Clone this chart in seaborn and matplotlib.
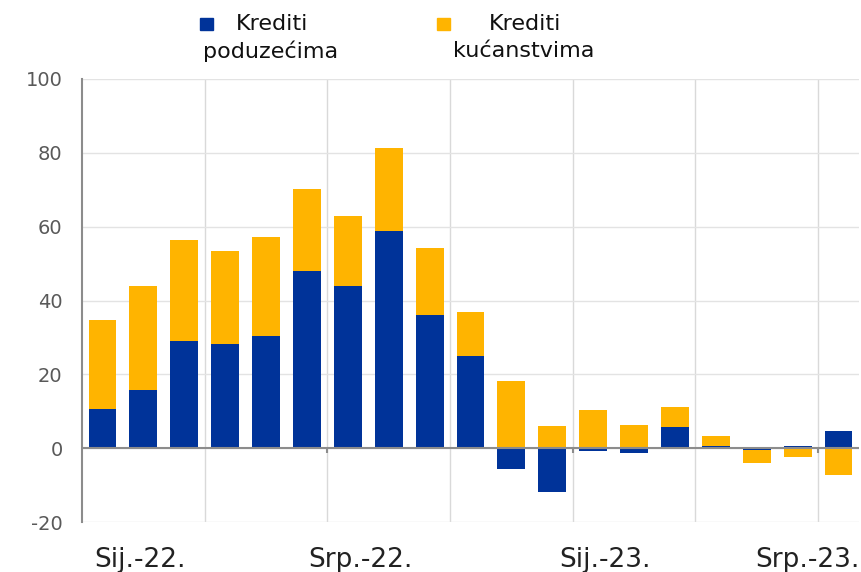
import numpy as np
import pandas as pd
import matplotlib
matplotlib.use("Agg")
import matplotlib.pyplot as plt
import matplotlib.transforms as mtransforms
from matplotlib.patches import Rectangle
import seaborn as sns

# monthly contributions, Jan 2022 - Jul 2023
months = pd.date_range("2022-01", periods=19, freq="MS").strftime("%Y-%m").tolist()
poduzeca = [10.5, 15.7, 28.9, 28.1, 30.5, 48.1, 43.8, 58.9, 36.2, 24.9,
            -5.7, -11.9, -0.8, -1.4, 5.7, 0.5, -0.5, 0.7, 4.6]
kucanstva = [24.1, 28.1, 27.6, 25.4, 26.8, 22.2, 19.2, 22.5, 18.1, 11.9,
             18.1, 5.9, 10.3, 6.2, 5.4, 2.7, -3.6, -2.4, -7.3]

x_labels = ["Sij.-22.", "Srp.-22.", "Sij.-23.", "Srp.-23."]
x_label_pos = [0.93, 6.3, 12.3, 17.24]

BLUE = "#003399"
YELLOW = "#FFB400"
GREY = "#595959"

df = pd.DataFrame({"mjesec": months, "poduzeca": poduzeca, "kucanstva": kucanstva})
# stack same-sign parts, opposite signs start from zero
df["bottom"] = np.where(np.sign(df["poduzeca"]) == np.sign(df["kucanstva"]), df["poduzeca"], 0.0)

sns.set_style("white")
plt.rcParams["font.family"] = ["DejaVu Sans"]
plt.rcParams["axes.unicode_minus"] = False

fig = plt.figure(figsize=(8.61, 5.72), dpi=100)
ax = fig.add_axes([0.0952, 0.0874, 0.9025, 0.7745])

sns.barplot(data=df, x="mjesec", y="poduzeca", order=months, color=BLUE,
            saturation=1, width=0.68, linewidth=0, ax=ax, zorder=3)
sns.barplot(data=df, x="mjesec", y="kucanstva", order=months, color=YELLOW,
            saturation=1, width=0.68, linewidth=0, bottom=df["bottom"].values,
            ax=ax, zorder=3)

ax.set_xlim(-0.5, len(months) - 0.5)
ax.set_ylim(-20, 100)
ax.set_yticks(np.arange(-20, 101, 20))
ax.set_xlabel("")
ax.set_ylabel("")

# gridlines every 3 months
ax.set_xticks([])
ax.set_xticks(np.arange(2.5, len(months), 3), minor=True)
ax.grid(True, which="minor", axis="x", color="#d9d9d9", lw=1, zorder=0)
ax.grid(True, which="major", axis="y", color="#e3e3e3", lw=1, zorder=0)
ax.tick_params(axis="x", which="both", length=0, labelbottom=False)
ax.tick_params(axis="y", length=8, width=1.3, color="#8c8c8c", colors=GREY,
               labelsize=14, pad=6)

for s in ["top", "right", "bottom"]:
    ax.spines[s].set_visible(False)
ax.spines["left"].set_color("#8c8c8c")
ax.spines["left"].set_linewidth(1.5)

ax.axhline(0, color="#8c8c8c", lw=1.5, zorder=4)
ax.vlines([5.5, 11.5, 17.5], -1.3, 0, color="#8c8c8c", lw=1.5, zorder=4)

# date labels under the chart
trans = mtransforms.blended_transform_factory(ax.transData, fig.transFigure)
for pos, txt in zip(x_label_pos, x_labels):
    ax.text(pos, 0.008, txt, transform=trans, ha="center", va="baseline",
            fontsize=19, color="#222222", clip_on=False)

# legend
fig.patches.append(Rectangle((200 / 861, 1 - 30 / 572), 13 / 861, 12 / 572,
                             transform=fig.transFigure, color=BLUE))
fig.patches.append(Rectangle((437 / 861, 1 - 30 / 572), 13 / 861, 12 / 572,
                             transform=fig.transFigure, color=YELLOW))
fig.text(236 / 861, 1 - 24 / 572, "Krediti", fontsize=16, va="center", color="#111111")
fig.text(203 / 861, 1 - 51 / 572, "poduzećima", fontsize=16, va="center", color="#111111")
fig.text(489 / 861, 1 - 24 / 572, "Krediti", fontsize=16, va="center", color="#111111")
fig.text(453 / 861, 1 - 51 / 572, "kućanstvima", fontsize=16, va="center", color="#111111")

fig.savefig("out.png", dpi=100)
plt.close(fig)
